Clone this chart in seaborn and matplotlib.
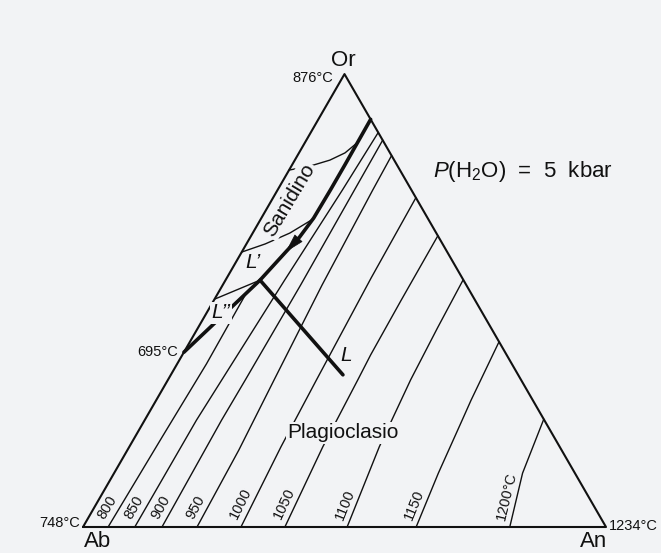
"""Sistema Ab-An-Or a P(H2O) = 5 kbar: isoterme del liquidus e cammino di cristallizzazione."""

import matplotlib

matplotlib.use("Agg")
import matplotlib.pyplot as plt
import numpy as np
import seaborn as sns

# Vertici del triangolo (An %, Or %) e temperature di fusione dei termini puri
VERTEX_NAMES = ["Ab", "An", "Or"]
VERTEX_AN = [0, 100, 0]
VERTEX_OR = [0, 0, 100]
VERTEX_TEMPS = ["748°C", "1234°C", "876°C"]

# Isoterme del liquidus (composizioni, An % / Or %)
ISOTHERM_LABELS = ["800", "850", "900", "950", "1000", "1050", "1100", "1150", "1200°C"]
ISO_800_AN = [4.8, 5.2, 5.6, 5.4]
ISO_800_OR = [0, 20.0, 36.0, 51.8]
ISO_850_AN = [9.9, 9.9, 10.3, 11.3, 12.4, 12.9]
ISO_850_OR = [0, 23.6, 32.5, 54.5, 74.4, 87.1]
ISO_900_AN = [15.1, 14.7, 14.8, 14.9, 14.7, 14.6]
ISO_900_OR = [0, 23.6, 32.5, 53.4, 74.4, 85.4]
ISO_950_AN = [21.8, 21.3, 20.3, 19.0, 18.2, 18.0]
ISO_950_OR = [0, 17.0, 32.5, 53.4, 74.4, 82.0]
ISO_1000_AN = [30.2, 29.0, 28.4, 27.6, 27.3]
ISO_1000_OR = [0, 17.7, 32.5, 55.0, 72.7]
ISO_1050_AN = [38.6, 37.0, 36.3, 36.0, 35.8, 35.7]
ISO_1050_OR = [0, 17.7, 32.5, 38.0, 50.0, 64.3]
ISO_1100_AN = [50.5, 47.8, 46.4, 45.8, 45.4]
ISO_1100_OR = [0, 17.7, 32.5, 44.0, 54.6]
ISO_1150_AN = [63.7, 62.0, 60.7, 60.2, 59.1]
ISO_1150_OR = [0, 11.9, 23.6, 28.0, 40.9]
ISO_1200_AN = [81.6, 78.1, 76.2]
ISO_1200_OR = [0, 11.9, 23.8]

# Linea cotettica sanidino-plagioclasio, fino al minimo a 695 °C sul lato Ab-Or
COTECTIC_AN = [10.0, 10.1, 10.1, 10.0, 9.4, 8.4, 6.6, 0.0]
COTECTIC_OR = [90.0, 79.9, 74.4, 68.2, 64.0, 60.7, 54.5, 38.6]
MINIMUM_LABEL = "695°C"

# Cammino del liquido L -> L'
PATH_AN = [32.9, 6.6]
PATH_OR = [33.6, 54.5]

# Linee di coniugazione verso il lato Ab-Or
TIE_UPPER_AN = [0, 3.6, 6.7, 8.8, 10.0]
TIE_UPPER_OR = [78.8, 79.7, 81.0, 82.6, 84.8]
TIE_MIDDLE_AN = [0, 3.6, 7.1, 10.0]
TIE_MIDDLE_OR = [60.7, 62.5, 64.9, 68.0]
TIE_LPRIME_AN = [0, 6.6]
TIE_LPRIME_OR = [50.3, 54.5]

ISOTHERMS = [
    (ISO_800_AN, ISO_800_OR),
    (ISO_850_AN, ISO_850_OR),
    (ISO_900_AN, ISO_900_OR),
    (ISO_950_AN, ISO_950_OR),
    (ISO_1000_AN, ISO_1000_OR),
    (ISO_1050_AN, ISO_1050_OR),
    (ISO_1100_AN, ISO_1100_OR),
    (ISO_1150_AN, ISO_1150_OR),
    (ISO_1200_AN, ISO_1200_OR),
]

INK = "#111111"
PAPER = "#f2f3f5"
PX = 5.23  # pixel per unita' di composizione


def tern(an, orr):
    """Coordinate cartesiane (lato Ab-An = 100) da An % e Or %."""
    an = np.asarray(an, dtype=float)
    orr = np.asarray(orr, dtype=float)
    return an + orr / 2, orr * np.sqrt(3) / 2


def draw(ax, an, orr, lw):
    x, y = tern(an, orr)
    sns.lineplot(x=x, y=y, sort=False, estimator=None, color=INK,
                 linewidth=lw, ax=ax, solid_capstyle="round")


sns.set_style("white")
plt.rcParams["font.family"] = ["Liberation Sans", "DejaVu Sans"]
plt.rcParams["mathtext.fontset"] = "custom"
plt.rcParams["mathtext.rm"] = "Liberation Sans"
plt.rcParams["mathtext.it"] = "Liberation Sans:italic"

fig = plt.figure(figsize=(6.61, 5.53), dpi=100, facecolor=PAPER)
ax = fig.add_axes([0, 0, 1, 1], facecolor=PAPER)
ax.set_xlim(-83 / PX, (661 - 83) / PX)
ax.set_ylim(-26 / PX, 527 / PX)
ax.axis("off")

# triangolo
draw(ax, VERTEX_AN + VERTEX_AN[:1], VERTEX_OR + VERTEX_OR[:1], 1.5)

# isoterme con etichetta lungo la linea, appena sopra la base
for label, (an, orr) in zip(ISOTHERM_LABELS, ISOTHERMS):
    draw(ax, an, orr, 1.0)
    x, y = tern(an[:2], orr[:2])
    ang = np.degrees(np.arctan2(y[1] - y[0], x[1] - x[0]))
    a = np.radians(ang)
    dx = 3 * np.cos(a) - 2.5 * np.sin(a)
    dy = 3 * np.sin(a) + 2.5 * np.cos(a)
    ax.annotate(label, (x[0], y[0]), xytext=(dx, dy), textcoords="offset points",
                rotation=ang, rotation_mode="anchor", ha="left", va="bottom",
                fontsize=10.5, color=INK)

# linee di coniugazione
draw(ax, TIE_UPPER_AN, TIE_UPPER_OR, 1.0)
draw(ax, TIE_MIDDLE_AN, TIE_MIDDLE_OR, 1.0)
draw(ax, TIE_LPRIME_AN, TIE_LPRIME_OR, 1.0)

# cotettica e cammino del liquido
draw(ax, COTECTIC_AN, COTECTIC_OR, 2.6)
draw(ax, PATH_AN, PATH_OR, 2.6)
cx, cy = tern(COTECTIC_AN, COTECTIC_OR)
ax.annotate("", xy=(cx[5], cy[5]), xytext=(cx[4], cy[4]),
            arrowprops=dict(arrowstyle="-|>,head_length=0.9,head_width=0.25",
                            color=INK, lw=0.5, shrinkA=0, shrinkB=0,
                            mutation_scale=14))

# vertici e temperature
vx, vy = tern(VERTEX_AN, VERTEX_OR)
vert_style = [
    dict(name_off=(1, -3), name_ha="left", name_va="top",
         t_off=(-2, 3), t_ha="right", t_va="center"),
    dict(name_off=(1, -3), name_ha="right", name_va="top",
         t_off=(2, 1), t_ha="left", t_va="center"),
    dict(name_off=(-1, 2), name_ha="center", name_va="bottom",
         t_off=(-8, -3), t_ha="right", t_va="center"),
]
for name, temp, x, y, st in zip(VERTEX_NAMES, VERTEX_TEMPS, vx, vy, vert_style):
    ax.annotate(name, (x, y), xytext=st["name_off"], textcoords="offset points",
                ha=st["name_ha"], va=st["name_va"], fontsize=16, color=INK)
    ax.annotate(temp, (x, y), xytext=st["t_off"], textcoords="offset points",
                ha=st["t_ha"], va=st["t_va"], fontsize=10.5, color=INK)

ax.annotate(MINIMUM_LABEL, (cx[-1], cy[-1]), xytext=(-4, 0), textcoords="offset points",
            ha="right", va="center", fontsize=10.5, color=INK)

box = dict(facecolor=PAPER, edgecolor="none", pad=1.0)
sx, sy = tern([3.3], [72.2])
ax.text(sx[0], sy[0], "Sanidino", rotation=59, ha="center", va="center",
        rotation_mode="anchor", fontsize=15, color=INK, bbox=box)
px_, py_ = tern([39.3], [20.8])
ax.text(px_[0], py_[0], "Plagioclasio", ha="center", va="center",
        fontsize=15, color=INK, bbox=box)
for txt, an, orr, bb in [("L\u2019", 3.25, 58.5, None),
                         ("L\u2019\u2019", 2.8, 47.3, box),
                         ("L", 31.4, 37.8, None)]:
    lx, ly = tern([an], [orr])
    ax.text(lx[0], ly[0], txt, ha="center", va="center", fontsize=15,
            style="italic", color=INK, bbox=bb)

fig.text(433 / 661, 1 - 171 / 553, r"$P$(H$_2$O)  =  5  kbar", ha="left", va="center",
         fontsize=16, color=INK)

fig.savefig("out.png", dpi=100, facecolor=PAPER)
